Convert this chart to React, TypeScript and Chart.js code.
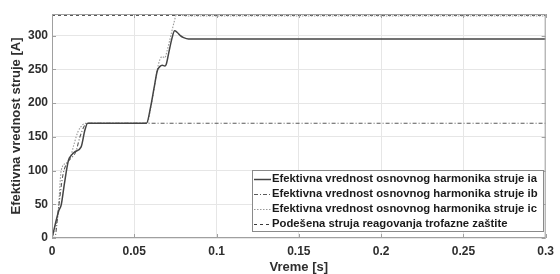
import React, { useEffect, useRef } from "react";
import { Chart, registerables } from "chart.js";

Chart.register(...registerables);

// Time [s] / value [A] for each series
const iaT = [0, 0.0042, 0.0056, 0.0075, 0.010, 0.0116, 0.014, 0.0177, 0.020, 0.0217, 0.0574, 0.060, 0.062, 0.064, 0.0655, 0.067, 0.0685, 0.0695, 0.071, 0.073, 0.0745, 0.076, 0.078, 0.080, 0.083, 0.3];
const iaV = [0, 41, 49, 80, 115, 122, 128, 135, 160, 170, 170, 195, 222, 248, 254, 256, 255, 258, 275, 297, 307, 305, 300, 297, 295, 295];

const ibT = [0, 0.0016, 0.004, 0.0066, 0.0096, 0.012, 0.0145, 0.017, 0.0199, 0.0215, 0.3];
const ibV = [0, 0, 45, 93, 113, 119, 128, 150, 167, 170, 170];

const icT = [0, 0.0015, 0.0036, 0.0056, 0.0086, 0.011, 0.0135, 0.0157, 0.0187, 0.020, 0.0578, 0.060, 0.062, 0.064, 0.0655, 0.067, 0.0685, 0.070, 0.072, 0.074, 0.076, 0.077, 0.079, 0.082, 0.3];
const icV = [0, 12, 34, 100, 111, 118, 140, 157, 168, 170, 170, 193, 220, 250, 264, 269, 267, 278, 298, 318, 333, 333, 330, 329, 329];

const limT = [0, 0.3];
const limV = [330, 330];

const xTicks = [0, 0.05, 0.1, 0.15, 0.2, 0.25, 0.3];
const yTicks = [0, 50, 100, 150, 200, 250, 300];

const legendLabels = [
  "Efektivna vrednost osnovnog harmonika struje ia",
  "Efektivna vrednost osnovnog harmonika struje ib",
  "Efektivna vrednost osnovnog harmonika struje ic",
  "Podešena struja reagovanja trofazne zaštite",
];

const xTitle = "Vreme [s]";
const yTitle = "Efektivna vrednost struje [A]";

const FONT = "'Liberation Sans', Arial, sans-serif";

const pts = (t: number[], v: number[]) => t.map((x, i) => ({ x, y: v[i] }));

const styles = [
  { color: "#444444", dash: [] as number[], width: 1.5 },
  { color: "#5a5a5a", dash: [4, 2, 1, 2], width: 1.1 },
  { color: "#999999", dash: [1.5, 1.5], width: 1.1 },
  { color: "#3a3a3a", dash: [3, 3], width: 1 },
];

const framePlugin = {
  id: "frame",
  afterDatasetsDraw(chart: any) {
    const { ctx, chartArea: a, scales } = chart;
    ctx.save();
    ctx.strokeStyle = "#a0a0a0";
    ctx.lineWidth = 1;
    ctx.setLineDash([]);
    ctx.strokeRect(a.left + 0.5, a.top + 0.5, a.right - a.left - 1, a.bottom - a.top - 1);
    ctx.beginPath();
    for (const v of xTicks) {
      const px = Math.round(scales.x.getPixelForValue(v)) + 0.5;
      ctx.moveTo(px, a.bottom);
      ctx.lineTo(px, a.bottom - 4);
      ctx.moveTo(px, a.top);
      ctx.lineTo(px, a.top + 4);
    }
    for (const v of yTicks) {
      const py = Math.round(scales.y.getPixelForValue(v)) + 0.5;
      ctx.moveTo(a.left, py);
      ctx.lineTo(a.left + 4, py);
      ctx.moveTo(a.right, py);
      ctx.lineTo(a.right - 4, py);
    }
    ctx.stroke();
    ctx.restore();
  },
  afterDraw(chart: any) {
    const { ctx, chartArea: a } = chart;
    const x0 = a.left + 200;
    const y0 = a.top + 156;
    const w = 291;
    const h = 61;
    ctx.save();
    ctx.fillStyle = "#ffffff";
    ctx.fillRect(x0, y0, w, h);
    ctx.strokeStyle = "#8a8a8a";
    ctx.lineWidth = 1;
    ctx.setLineDash([]);
    ctx.strokeRect(x0 + 0.5, y0 + 0.5, w, h);
    ctx.font = `bold 11.3px ${FONT}`;
    ctx.textBaseline = "middle";
    ctx.textAlign = "left";
    legendLabels.forEach((lab, i) => {
      const y = y0 + 8.5 + i * 15;
      const s = styles[i];
      ctx.beginPath();
      ctx.strokeStyle = s.color;
      ctx.lineWidth = s.width;
      ctx.setLineDash(s.dash);
      ctx.moveTo(x0 + 2, Math.round(y) + 0.5);
      ctx.lineTo(x0 + 19, Math.round(y) + 0.5);
      ctx.stroke();
      ctx.fillStyle = "#1a1a1a";
      ctx.fillText(lab, x0 + 20, y);
    });
    ctx.restore();
  },
};

export default function App() {
  const ref = useRef<HTMLCanvasElement | null>(null);
  useEffect(() => {
    document.body.style.margin = "0";
    const canvas = ref.current;
    if (!canvas) return;
    const series = [pts(iaT, iaV), pts(ibT, ibV), pts(icT, icV), pts(limT, limV)];
    const chart = new Chart(canvas, {
      type: "line",
      data: {
        datasets: series.map((d, i) => ({
          label: legendLabels[i],
          data: d,
          borderColor: styles[i].color,
          borderWidth: styles[i].width,
          borderDash: styles[i].dash,
          pointRadius: 0,
          fill: false,
          cubicInterpolationMode: "monotone" as const,
        })),
      },
      options: {
        animation: false,
        responsive: false,
        devicePixelRatio: 1,
        parsing: false as any,
        layout: { padding: { top: 14, right: 9, left: 0, bottom: 0 } },
        plugins: { legend: { display: false }, tooltip: { enabled: false } },
        scales: {
          x: {
            type: "linear",
            min: 0,
            max: 0.3,
            afterBuildTicks: (s: any) => {
              s.ticks = xTicks.map((v) => ({ value: v }));
            },
            afterFit: (s: any) => {
              s.height = 36;
            },
            grid: { color: "#e6e6e6", drawTicks: false },
            border: { display: false },
            ticks: {
              padding: 6,
              color: "#2e2e2e",
              font: { family: FONT, weight: "bold", size: 12 },
              maxRotation: 0,
              callback: (v: any) => String(v),
            },
            title: {
              display: true,
              text: xTitle,
              color: "#2e2e2e",
              font: { family: FONT, weight: "bold", size: 13, lineHeight: 1 },
              padding: { top: 0, bottom: 0 },
            },
          },
          y: {
            type: "linear",
            min: 0,
            max: 332,
            afterBuildTicks: (s: any) => {
              s.ticks = yTicks.map((v) => ({ value: v }));
            },
            afterFit: (s: any) => {
              s.width = 52;
            },
            grid: { color: "#e6e6e6", drawTicks: false },
            border: { display: false },
            ticks: {
              padding: 4,
              color: "#2e2e2e",
              font: { family: FONT, weight: "bold", size: 12 },
              callback: (v: any) => String(v),
            },
            title: {
              display: true,
              text: yTitle,
              color: "#2e2e2e",
              font: { family: FONT, weight: "bold", size: 13, lineHeight: 1.2 },
              padding: { top: 9, bottom: 0 },
            },
          },
        },
      },
      plugins: [framePlugin],
    });
    return () => chart.destroy();
  }, []);
  return (
    <div style={{ width: 560, height: 274 }}>
      <canvas ref={ref} width={560} height={274} style={{ display: "block" }} />
    </div>
  );
}
